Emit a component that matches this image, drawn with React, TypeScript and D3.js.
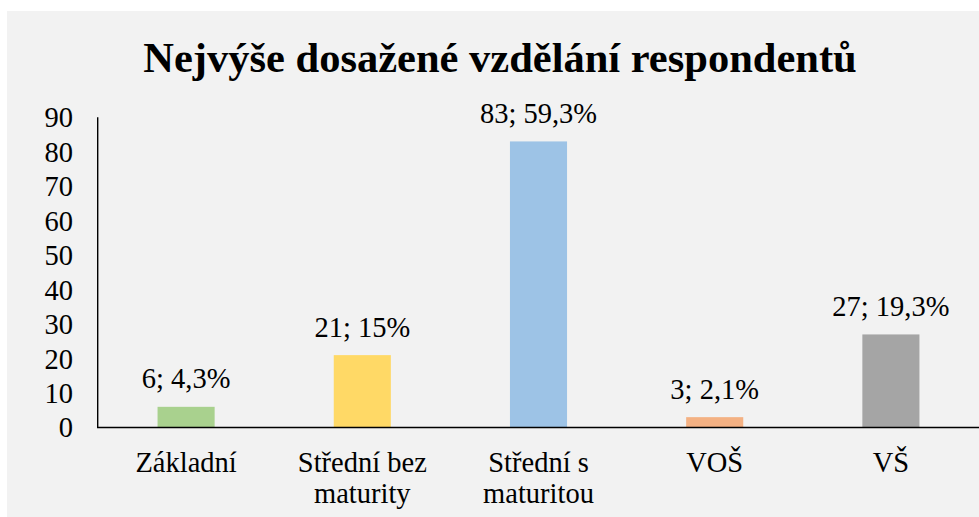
import React from "react";
import * as d3 from "d3";

const categories: string[][] = [
  ["Základní"],
  ["Střední bez", "maturity"],
  ["Střední s", "maturitou"],
  ["VOŠ"],
  ["VŠ"],
];
const counts = [6, 21, 83, 3, 27];
const percentLabels = ["4,3%", "15%", "59,3%", "2,1%", "19,3%"];
const barColors = ["#a9d18e", "#ffd966", "#9dc3e6", "#f4b183", "#a5a5a5"];
const yTicks = [0, 10, 20, 30, 40, 50, 60, 70, 80, 90];
const title = "Nejvýše dosažené vzdělání respondentů";

const W = 979;
const H = 517;
const FONT = "'Liberation Serif', 'Times New Roman', serif";

export default function App() {
  const x = d3
    .scaleBand<number>()
    .domain(counts.map((_, i) => i))
    .range([98, 979])
    .padding(0);
  const y = d3.scaleLinear().domain([0, 90]).range([427.5, 117.3]);
  const barW = x.bandwidth() * 0.324;

  return (
    <svg
      width={W}
      height={H}
      style={{ position: "absolute", left: 0, top: 0, background: "#ffffff" }}
    >
      <rect x={7} y={11} width={W - 7} height={H - 11} fill="#f2f2f2" />
      <text
        x={500}
        y={71.5}
        textAnchor="middle"
        fontFamily={FONT}
        fontWeight="bold"
        fontSize={42.5}
        fill="#000"
      >
        {title}
      </text>
      {yTicks.map((t) => (
        <text
          key={t}
          x={73}
          y={y(t)}
          dy="0.35em"
          textAnchor="end"
          fontFamily={FONT}
          fontSize={28.5}
          fill="#000"
        >
          {t}
        </text>
      ))}
      {counts.map((v, i) => {
        const cx = (x(i) as number) + x.bandwidth() / 2;
        return (
          <g key={i}>
            <rect
              x={cx - barW / 2}
              y={y(v)}
              width={barW}
              height={y(0) - y(v)}
              fill={barColors[i]}
            />
            <text
              x={cx}
              y={y(v) - 18.5}
              textAnchor="middle"
              fontFamily={FONT}
              fontSize={28.5}
              fill="#000"
            >
              {`${v}; ${percentLabels[i]}`}
            </text>
            {categories[i].map((line, j) => (
              <text
                key={j}
                x={cx}
                y={471.5 + j * 31.5}
                textAnchor="middle"
                fontFamily={FONT}
                fontSize={28.5}
                fill="#000"
              >
                {line}
              </text>
            ))}
          </g>
        );
      })}
      <line x1={97.7} x2={97.7} y1={117.3} y2={427.5} stroke="#000" strokeWidth={1.4} />
      <line x1={97} x2={979} y1={427.5} y2={427.5} stroke="#000" strokeWidth={1.4} />
    </svg>
  );
}
